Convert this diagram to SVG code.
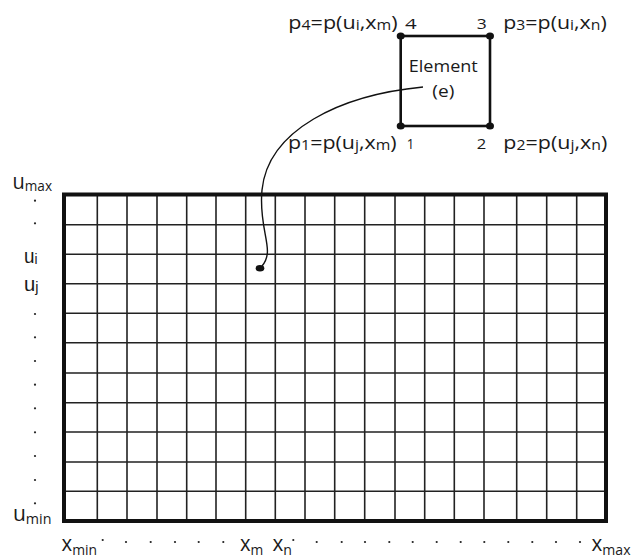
<svg xmlns="http://www.w3.org/2000/svg" width="642" height="558" viewBox="0 0 642 558">
<style>
text{font-family:"Open Sans","Liberation Sans",sans-serif;fill:#1a1a1a}
.g{stroke:#222;stroke-width:1.6;fill:none}
.b{stroke:#111;stroke-width:4;fill:none}
.el{stroke:#111;stroke-width:2.6;fill:none}
.d{fill:#222}
.cd{fill:#111}
.lab{font-size:19px}
.ls{font-size:14px}
.num{font-size:15px}
.ax{font-size:22px}
.ax2{font-size:21px;font-family:"Liberation Sans",sans-serif}
.sub{font-size:15px}
</style>
<rect width="642" height="558" fill="#fff"/>
<g id="grid">
<path class="g" d="M97.3 194V521M127 194V521M157 194V521M186.7 194V521M216 194V521M245.7 194V521M275.3 194V521M305 194V521M334.7 194V521M364.7 194V521M395 194V521M424.7 194V521M454.3 194V521M484 194V521M516.7 194V521M546.7 194V521M576.7 194V521"/>
<path class="g" d="M64 224.7H606M64 254.3H606M64 283.7H606M64 313.3H606M64 342.7H606M64 373H606M64 402.7H606M64 432H606M64 462H606M64 491.3H606"/>
<rect class="b" x="64" y="194.5" width="542" height="326.5"/>
</g>
<g id="element">
<rect class="el" x="400.7" y="36" width="89.3" height="90"/>
<ellipse class="cd" cx="400.7" cy="36" rx="4" ry="3.6"/>
<ellipse class="cd" cx="490" cy="36" rx="4" ry="3.6"/>
<ellipse class="cd" cx="400.7" cy="126" rx="4" ry="3.6"/>
<ellipse class="cd" cx="490" cy="126" rx="4" ry="3.6"/>
<text x="443.3" y="71.7" font-size="17" text-anchor="middle" textLength="69" lengthAdjust="spacingAndGlyphs">Element</text>
<text x="443.3" y="96.5" font-size="17" text-anchor="middle" textLength="22" lengthAdjust="spacingAndGlyphs">(e)</text>
</g>
<g id="p4">
<text class="lab" x="288.3" y="29" textLength="109.4" lengthAdjust="spacingAndGlyphs">p<tspan class="ls" dy="1">4</tspan><tspan dy="-1">=p(u</tspan><tspan class="ls" dy="1">i</tspan><tspan dy="-1">,x</tspan><tspan class="ls" dy="1">m</tspan><tspan dy="-1">)</tspan></text>
<text class="num" x="405" y="29" textLength="11.7" lengthAdjust="spacingAndGlyphs">4</text>
</g>
<g id="p3">
<text class="num" x="476.7" y="29" textLength="10" lengthAdjust="spacingAndGlyphs">3</text>
<text class="lab" x="503.3" y="29" textLength="103.4" lengthAdjust="spacingAndGlyphs">p<tspan class="ls" dy="1">3</tspan><tspan dy="-1">=p(u</tspan><tspan class="ls" dy="1">i</tspan><tspan dy="-1">,x</tspan><tspan class="ls" dy="1">n</tspan><tspan dy="-1">)</tspan></text>
</g>
<g id="p1">
<text class="lab" x="288" y="149" textLength="108.7" lengthAdjust="spacingAndGlyphs">p<tspan class="ls" dy="1">1</tspan><tspan dy="-1">=p(u</tspan><tspan class="ls" dy="1">j</tspan><tspan dy="-1">,x</tspan><tspan class="ls" dy="1">m</tspan><tspan dy="-1">)</tspan></text>
<text class="num" x="406.7" y="149" textLength="7.5" lengthAdjust="spacingAndGlyphs">1</text>
</g>
<g id="p2">
<text class="num" x="476.7" y="149" textLength="9.5" lengthAdjust="spacingAndGlyphs">2</text>
<text class="lab" x="503.3" y="149" textLength="104" lengthAdjust="spacingAndGlyphs">p<tspan class="ls" dy="1">2</tspan><tspan dy="-1">=p(u</tspan><tspan class="ls" dy="1">j</tspan><tspan dy="-1">,x</tspan><tspan class="ls" dy="1">n</tspan><tspan dy="-1">)</tspan></text>
</g>
<g id="connectors">
<path d="M423 87C340 95 268 130 262 190C258 230 276 250 262 266" fill="none" stroke="#111" stroke-width="1.4"/>
<ellipse class="cd" cx="260" cy="268.3" rx="4.3" ry="3.3"/>
</g>
<g id="u-axis">
<text class="ax" x="12.5" y="189.3" textLength="39.5" lengthAdjust="spacingAndGlyphs">u<tspan class="sub" dy="1.4">max</tspan></text>
<text class="ax2" x="24" y="262.5" textLength="13.5" lengthAdjust="spacingAndGlyphs">u<tspan class="sub" dy="1">i</tspan></text>
<text class="ax2" x="24" y="290.5" textLength="14.5" lengthAdjust="spacingAndGlyphs">u<tspan class="sub" dy="1.5">j</tspan></text>
<text class="ax" x="13" y="521" textLength="38.5" lengthAdjust="spacingAndGlyphs">u<tspan class="sub" dy="3">min</tspan></text>
<g class="d">
<circle cx="35" cy="200.7" r="1.1"/><circle cx="35" cy="223.3" r="1.1"/><circle cx="35" cy="314" r="1.1"/><circle cx="35" cy="337.3" r="1.1"/><circle cx="35" cy="361" r="1.1"/><circle cx="35" cy="384.7" r="1.1"/><circle cx="35" cy="408.3" r="1.1"/><circle cx="35" cy="432.3" r="1.1"/><circle cx="35" cy="456" r="1.1"/><circle cx="35" cy="480" r="1.1"/><circle cx="35" cy="503.3" r="1.1"/>
</g>
</g>
<g id="x-axis">
<text class="ax" x="61.5" y="551" textLength="35.5" lengthAdjust="spacingAndGlyphs">x<tspan class="sub" dy="4">min</tspan></text>
<text class="ax" x="240" y="551" textLength="23.3" lengthAdjust="spacingAndGlyphs">x<tspan class="sub" dy="4">m</tspan></text>
<text class="ax" x="272.5" y="551" textLength="19.5" lengthAdjust="spacingAndGlyphs">x<tspan class="sub" dy="4">n</tspan></text>
<text class="ax" x="591.5" y="551" textLength="39" lengthAdjust="spacingAndGlyphs">x<tspan class="sub" dy="4">max</tspan></text>
<g class="d">
<circle cx="102.7" cy="540" r="1.1"/><circle cx="126" cy="542" r="1.1"/><circle cx="150.7" cy="542" r="1.1"/><circle cx="175" cy="542" r="1.1"/><circle cx="198.7" cy="542" r="1.1"/><circle cx="223.3" cy="542" r="1.1"/><circle cx="293.3" cy="540" r="1.1"/><circle cx="316.7" cy="542" r="1.1"/><circle cx="341.7" cy="542" r="1.1"/><circle cx="365" cy="542" r="1.1"/><circle cx="389.3" cy="542" r="1.1"/><circle cx="412.7" cy="542" r="1.1"/><circle cx="436.7" cy="542" r="1.1"/><circle cx="460.7" cy="542" r="1.1"/><circle cx="484.3" cy="542" r="1.1"/><circle cx="508.3" cy="542" r="1.1"/><circle cx="532.3" cy="542" r="1.1"/><circle cx="556" cy="542" r="1.1"/><circle cx="580" cy="542" r="1.1"/>
</g>
</g>
</svg>
